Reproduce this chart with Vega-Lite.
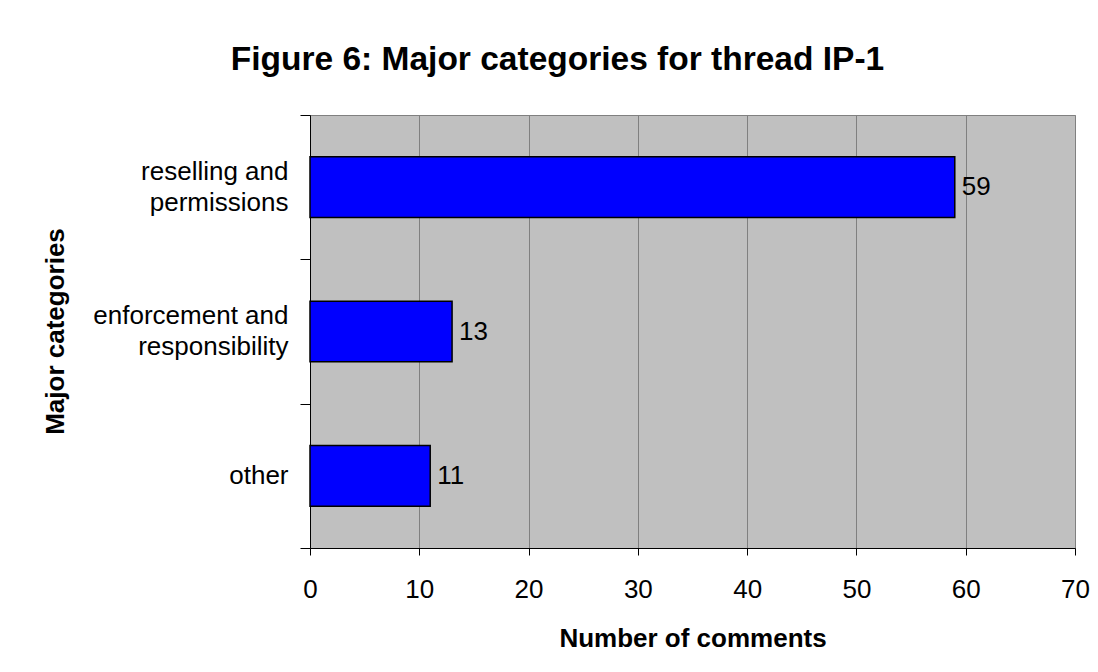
{
  "$schema": "https://vega.github.io/schema/vega-lite/v6.json",
  "autosize": "none",
  "width": 765,
  "height": 433,
  "padding": {"left": 310, "top": 115, "right": 23, "bottom": 124},
  "background": "white",
  "title": {
    "text": "Figure 6: Major categories for thread IP-1",
    "font": "Liberation Sans",
    "fontSize": 33.5,
    "fontWeight": "bold",
    "color": "black",
    "anchor": "middle",
    "frame": "group",
    "baseline": "alphabetic",
    "offset": -1,
    "dx": -135
  },
  "data": {
    "values": [
      {"category": "reselling and|permissions", "comments": 59},
      {"category": "enforcement and|responsibility", "comments": 13},
      {"category": "other", "comments": 11}
    ]
  },
  "encoding": {
    "y": {
      "field": "category",
      "type": "nominal",
      "sort": null,
      "scale": {"paddingInner": 0, "paddingOuter": 0},
      "axis": {
        "title": "Major categories",
        "titleFont": "Liberation Sans",
        "titleFontSize": 26,
        "titleFontWeight": "bold",
        "titleColor": "black",
        "titleX": -255,
        "titleY": 216,
        "titleAlign": "center",
        "titleBaseline": "middle",
        "titleAngle": 270,
        "labelFont": "Liberation Sans",
        "labelFontSize": 26,
        "labelColor": "black",
        "labelLimit": 400,
        "labelLineHeight": 15.5,
        "labelPadding": 12,
        "labelOffset": -16,
        "labelExpr": "indexof(datum.label, '|') >= 0 ? [split(datum.label, '|')[0], '\u200b', split(datum.label, '|')[1]] : ['', datum.label]",
        "tickBand": "extent",
        "tickSize": 10,
        "tickColor": "black",
        "domainColor": "black",
        "grid": false
      }
    },
    "x": {
      "field": "comments",
      "type": "quantitative",
      "scale": {"domain": [0, 70], "nice": false},
      "axis": {
        "title": "Number of comments",
        "titleFont": "Liberation Sans",
        "titleFontSize": 26,
        "titleFontWeight": "bold",
        "titleColor": "black",
        "titlePadding": 23,
        "values": [0, 10, 20, 30, 40, 50, 60, 70],
        "labelFont": "Liberation Sans",
        "labelFontSize": 26,
        "labelColor": "black",
        "labelPadding": 21,
        "labelFlush": false,
        "tickSize": 7,
        "tickColor": "black",
        "domainColor": "black",
        "grid": true,
        "gridColor": "#808080",
        "gridOpacity": 1,
        "gridWidth": 1
      }
    }
  },
  "layer": [
    {
      "mark": {
        "type": "bar",
        "color": "#0000FF",
        "stroke": "black",
        "strokeWidth": 1.5,
        "height": {"band": 0.42}
      }
    },
    {
      "mark": {
        "type": "text",
        "align": "left",
        "baseline": "middle",
        "dx": 7,
        "font": "Liberation Sans",
        "fontSize": 26,
        "color": "black"
      },
      "encoding": {"text": {"field": "comments", "type": "quantitative"}}
    }
  ],
  "config": {
    "view": {"fill": "#C0C0C0", "stroke": "#808080", "strokeWidth": 1}
  }
}
